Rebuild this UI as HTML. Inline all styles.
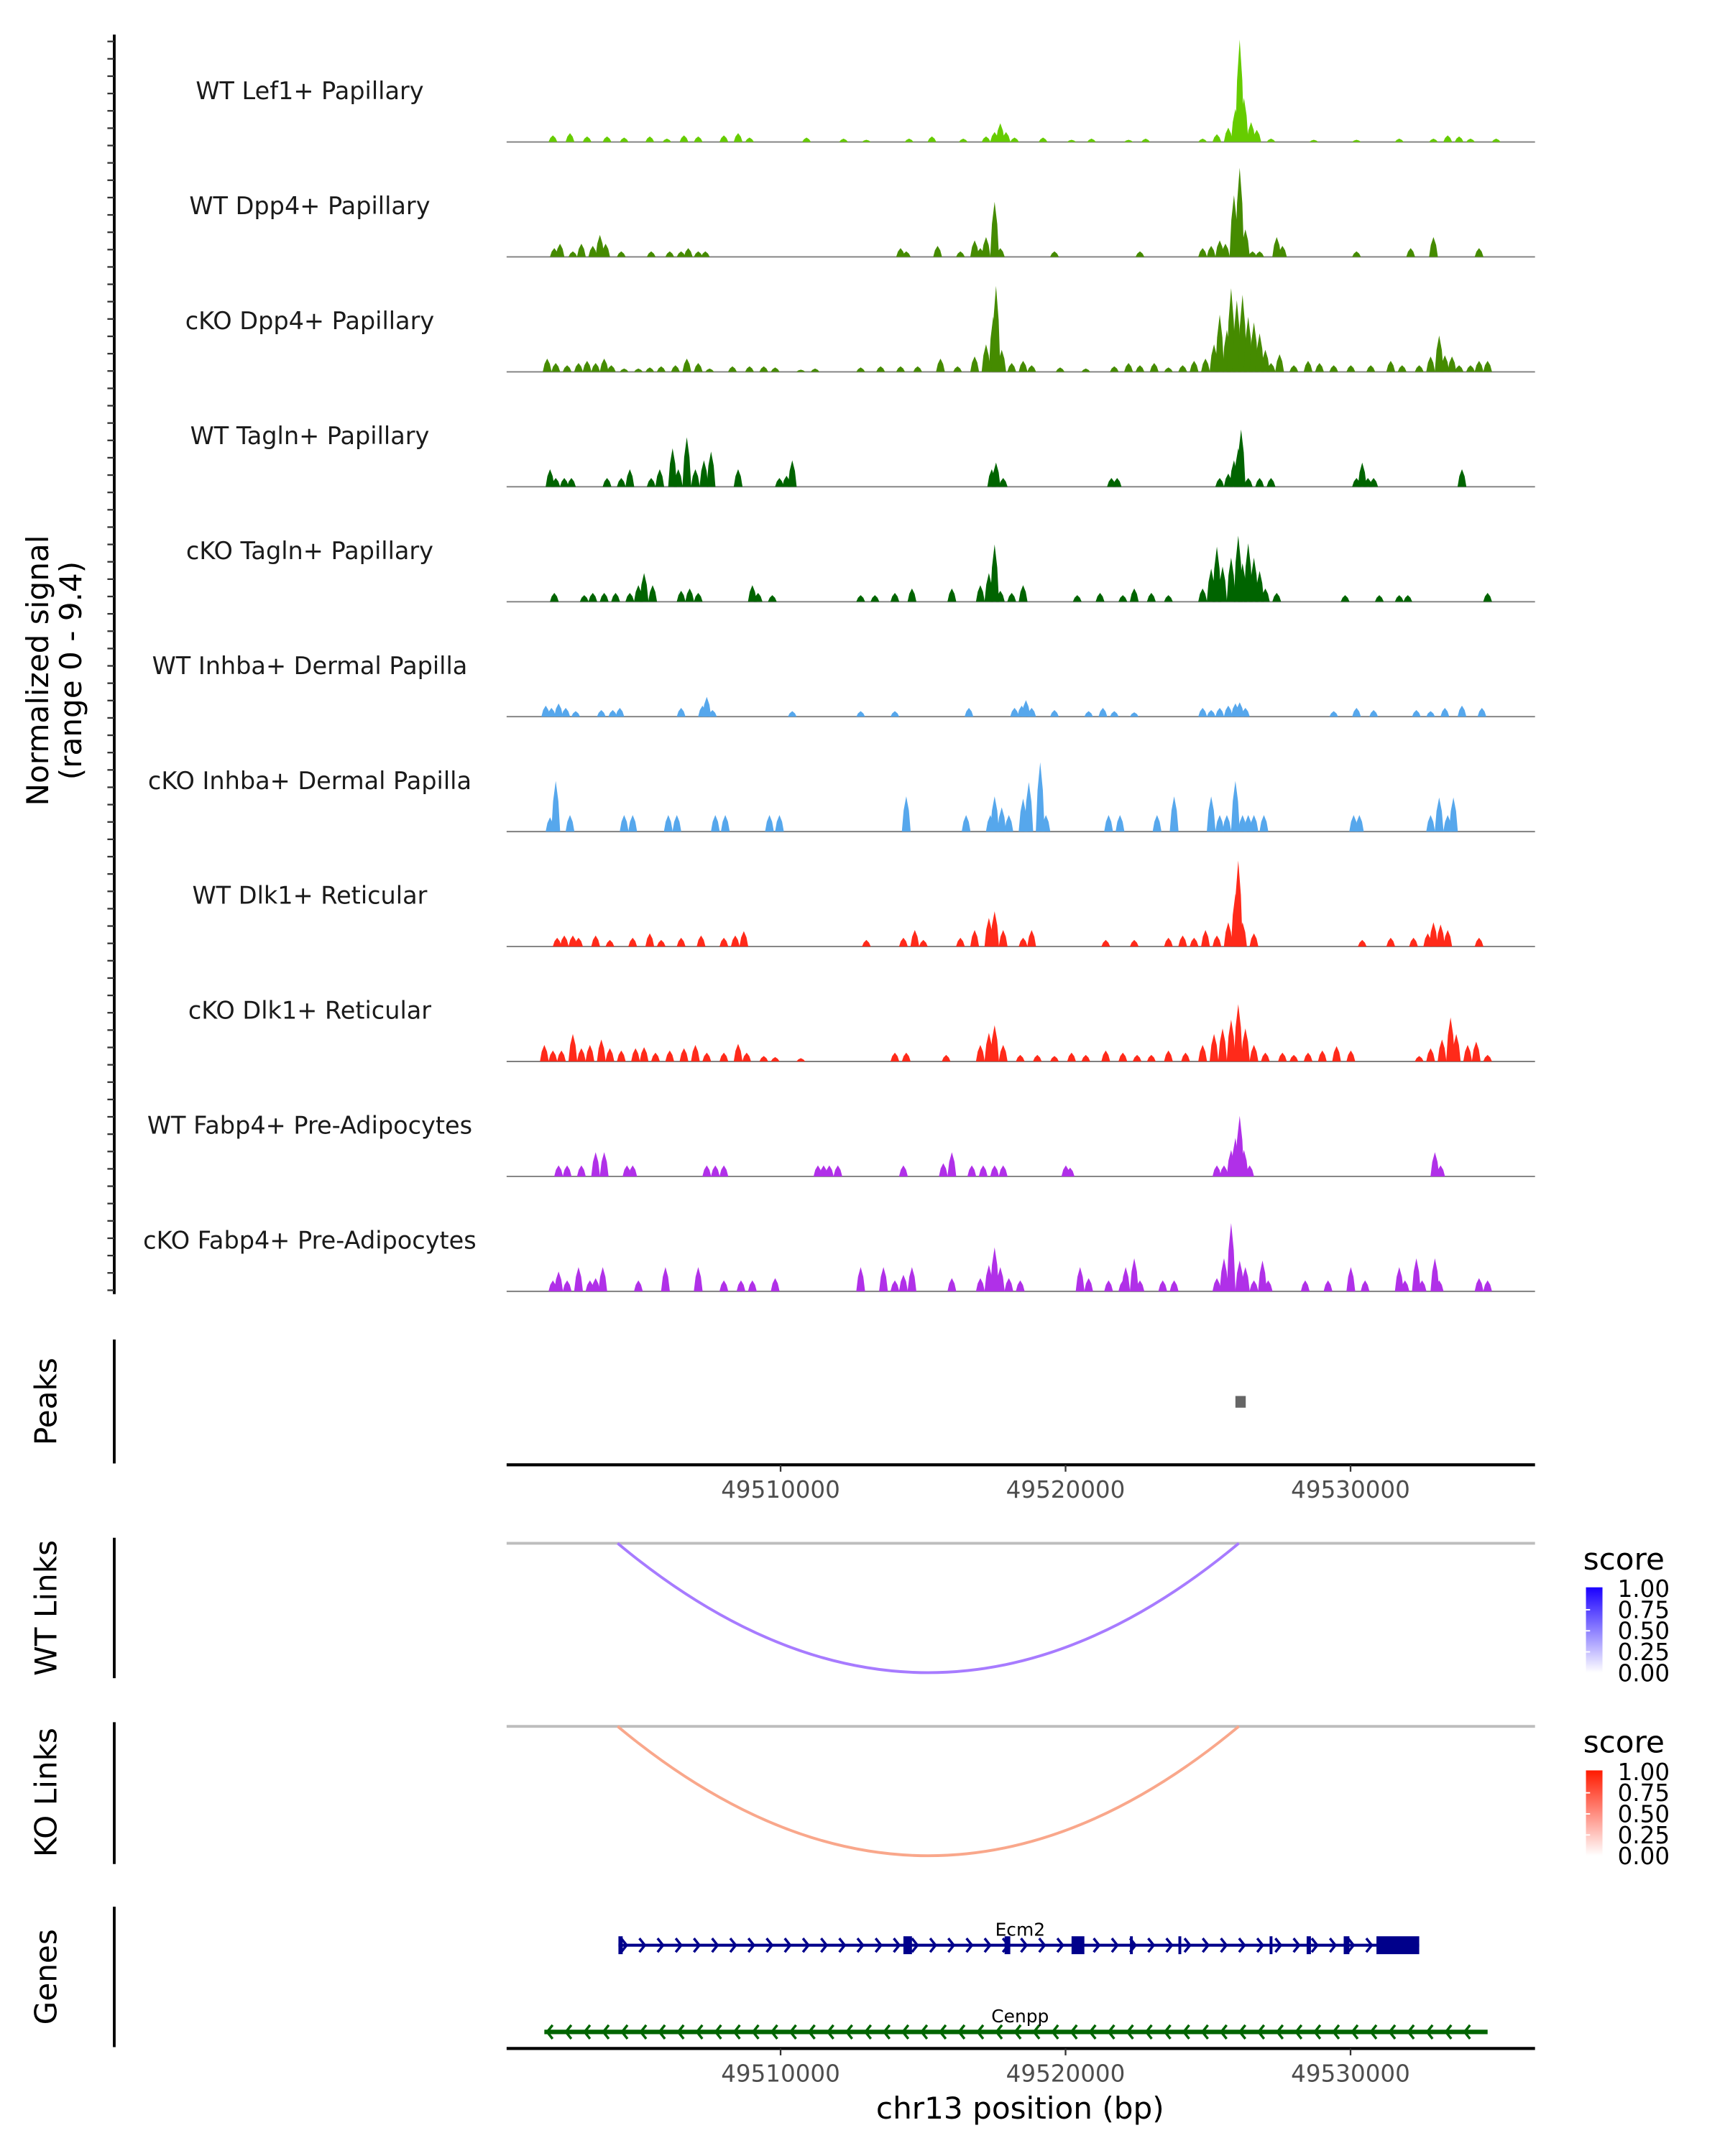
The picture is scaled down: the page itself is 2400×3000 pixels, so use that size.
<!DOCTYPE html>
<html><head><meta charset="utf-8">
<style>
html,body{margin:0;padding:0;background:#fff;}
svg{display:block;font-family:"DejaVu Sans","Liberation Sans",sans-serif;}
</style></head>
<body>
<svg id="chart" xmlns="http://www.w3.org/2000/svg" width="2400" height="3000" viewBox="0 0 1253 1566">
<defs>
<linearGradient id="gBlue" x1="0" y1="1" x2="0" y2="0"><stop offset="0" stop-color="#ffffff"/><stop offset="1" stop-color="#1a00ff"/></linearGradient>
<linearGradient id="gRed" x1="0" y1="1" x2="0" y2="0"><stop offset="0" stop-color="#ffffff"/><stop offset="1" stop-color="#ff1a00"/></linearGradient>
</defs>
<g id="tracks"></g>
<g id="static"></g>
</svg>
<script>
// ---- data ----
const regionStartBp = 49500210;
const axisTicks = [49510000, 49520000, 49530000];
const trackNames = ["WT Lef1+ Papillary","WT Dpp4+ Papillary","cKO Dpp4+ Papillary","WT Tagln+ Papillary","cKO Tagln+ Papillary","WT Inhba+ Dermal Papilla","cKO Inhba+ Dermal Papilla","WT Dlk1+ Reticular","cKO Dlk1+ Reticular","WT Fabp4+ Pre-Adipocytes","cKO Fabp4+ Pre-Adipocytes"];
const trackColors = ["#66cc00","#458b00","#458b00","#006400","#006400","#56a7ec","#56a7ec","#ff2a1a","#ff2a1a","#b030e8","#b030e8"];
// peaks: [kb offset from region start, normalized signal]
const t1 = [[1.8,.6],[2.4,.8],[3,.5],[3.7,.5],[4.3,.4],[5.2,.5],[5.8,.3],[6.4,.6],[6.9,.5],[7.8,.6],[8.3,.8],[8.7,.4],[10.7,.4],[12,.3],[12.8,.2],[14.3,.3],[15.1,.5],[16.2,.3],[17,.5],[17.3,.9],[17.5,1.7],[17.7,.9],[18,.4],[19,.4],[20,.2],[20.7,.3],[22,.2],[22.6,.3],[24.6,.3],[25.1,.7],[25.5,1.3],[25.75,3],[25.9,9.3],[26.05,4],[26.3,1.8],[26.5,1.1],[27,.3],[28.5,.2],[30,.2],[31.5,.3],[32.7,.3],[33.2,.6],[33.6,.5],[34,.3],[34.9,.3]];
const t2 = [[1.85,.8],[2.05,1.2],[2.5,.5],[2.8,1.2],[3.2,1],[3.45,2],[3.65,1.2],[4.2,.5],[5.25,.5],[5.9,.5],[6.3,.5],[6.55,.8],[6.9,.5],[7.15,.5],[14,.8],[14.2,.5],[15.3,1],[16.1,.5],[16.6,1.5],[16.8,.8],[17.0,1.8],[17.3,5],[17.5,.8],[19.4,.5],[22.4,.5],[24.6,.8],[24.9,1],[25.2,1.5],[25.4,1.2],[25.7,5.6],[25.9,8.1],[26.1,2.5],[26.35,.5],[26.6,.5],[27.2,1.8],[27.4,1],[30,.5],[31.9,.8],[32.7,1.8],[34.3,.8]];
const t3 = [[1.6,1.2],[1.9,.8],[2.3,.6],[2.7,.8],[3.0,1],[3.3,.8],[3.6,1.2],[3.85,.6],[4.3,.3],[4.8,.3],[5.2,.4],[5.6,.5],[6.1,.6],[6.5,1.2],[6.9,.8],[7.3,.3],[8.1,.5],[8.7,.5],[9.2,.5],[9.6,.4],[10.5,.2],[11,.3],[12.6,.4],[13.3,.5],[14,.5],[14.6,.5],[15.4,1.2],[16.0,.5],[16.6,1.4],[17.0,2.5],[17.25,5],[17.35,7.8],[17.55,2],[17.9,.8],[18.3,1],[18.6,.6],[19.6,.4],[20.5,.3],[21.5,.5],[22.0,.8],[22.4,.6],[22.9,.8],[23.4,.4],[23.9,.6],[24.3,1],[24.7,1.2],[25.0,2.5],[25.2,5.2],[25.45,3.8],[25.6,7.6],[25.8,6.5],[26.0,7],[26.2,5],[26.4,4.5],[26.6,3.5],[26.8,2],[27.0,.8],[27.3,1.6],[27.8,.6],[28.3,1],[28.7,.8],[29.2,.6],[29.8,.6],[30.5,.6],[31.2,1],[31.6,.6],[32.2,.6],[32.6,1.4],[32.9,3.3],[33.1,1.5],[33.35,1.4],[33.6,.6],[34.0,.6],[34.3,1],[34.6,1]];
const t4 = [[1.7,1.6],[1.9,.8],[2.2,.8],[2.45,.8],[3.7,.8],[4.2,.8],[4.5,1.6],[5.25,.8],[5.55,1.6],[6.0,3.5],[6.2,1.6],[6.5,4.5],[6.8,1.6],[7.1,2.4],[7.35,3.2],[8.3,1.6],[9.75,.8],[10.0,1],[10.2,2.4],[17.2,1.6],[17.35,2.2],[17.6,.8],[21.4,.8],[21.6,.8],[25.2,.8],[25.5,1.2],[25.7,2.4],[25.85,3.5],[25.95,5.2],[26.2,.8],[26.6,.8],[27.0,.8],[30.0,.8],[30.2,2.2],[30.4,.8],[30.6,.8],[33.7,1.6]];
const t5 = [[1.85,.8],[2.9,.6],[3.2,.8],[3.6,.8],[4.0,.8],[4.5,.8],[4.8,1.5],[5.0,2.6],[5.3,1.5],[6.3,1],[6.6,1.2],[6.9,.8],[8.8,1.5],[9.0,.8],[9.5,.6],[12.6,.6],[13.1,.6],[13.8,.8],[14.4,1.2],[15.8,1.2],[16.8,1.5],[17.1,2.6],[17.3,5.2],[17.5,1],[17.9,.8],[18.3,1.5],[20.2,.6],[21.0,.8],[21.8,.6],[22.2,1.2],[22.8,.8],[23.4,.6],[24.6,1.2],[24.9,3],[25.1,5],[25.3,3.2],[25.6,4],[25.85,6],[26.0,3.5],[26.2,5.3],[26.4,4],[26.6,2.8],[26.8,1.2],[27.2,.8],[29.6,.6],[30.8,.6],[31.5,.6],[31.8,.6],[34.6,.8]];
const t6 = [[1.55,1],[1.75,.8],[2.0,1.2],[2.25,.8],[2.6,.5],[3.5,.6],[3.9,.6],[4.15,.8],[6.3,.8],[7.05,1],[7.2,1.8],[7.4,.6],[10.2,.5],[12.6,.5],[13.8,.5],[16.4,.8],[18.0,.8],[18.25,1],[18.4,1.5],[18.6,.8],[19.4,.6],[20.6,.5],[21.1,.8],[21.5,.5],[22.2,.4],[24.6,.8],[24.9,.6],[25.2,.8],[25.5,1],[25.75,1.2],[25.9,1.3],[26.1,.8],[29.2,.5],[30.0,.8],[30.6,.6],[32.1,.6],[32.6,.5],[33.1,.8],[33.7,1],[34.4,.8]];
const t7 = [[1.7,1.3],[1.9,4.6],[2.4,1.5],[4.3,1.5],[4.6,1.5],[5.85,1.5],[6.15,1.5],[7.5,1.5],[7.85,1.5],[9.4,1.5],[9.75,1.5],[14.2,3.2],[16.3,1.5],[17.15,1.5],[17.3,3.2],[17.55,2.2],[17.8,1.5],[18.3,3],[18.5,4.5],[18.9,6.3],[19.1,1.5],[21.3,1.5],[21.7,1.5],[23.0,1.5],[23.6,3.2],[24.9,3.2],[25.2,1.5],[25.45,1.5],[25.75,4.6],[26.0,1.5],[26.2,1.5],[26.4,1.5],[26.75,1.5],[29.9,1.5],[30.1,1.5],[32.6,1.5],[32.9,3.1],[33.2,1.5],[33.4,3.1]];
const t8 = [[1.95,.8],[2.2,1],[2.5,1],[2.7,.8],[3.3,1],[3.8,.6],[4.6,.8],[5.2,1.2],[5.6,.6],[6.3,.8],[7.0,1],[7.8,.8],[8.2,1],[8.5,1.4],[12.8,.6],[14.1,.8],[14.5,1.5],[14.8,.6],[16.1,.8],[16.6,1.5],[17.1,2.6],[17.3,3.2],[17.6,1.5],[18.3,.8],[18.6,1.5],[21.2,.6],[22.2,.6],[23.4,.8],[23.9,1],[24.3,.8],[24.7,1.5],[25.1,1],[25.5,2.2],[25.75,4.8],[25.85,7.8],[26.0,2.2],[26.4,1.2],[30.2,.6],[31.2,.8],[32.0,.8],[32.5,1.2],[32.7,2.2],[32.95,2],[33.2,1.5],[34.3,.8]];
const t9 = [[1.5,1.5],[1.8,1],[2.1,1],[2.5,2.5],[2.8,1.2],[3.1,1.5],[3.5,2],[3.8,1.2],[4.2,1],[4.7,1.2],[5.0,1.3],[5.4,.8],[5.9,1],[6.4,1.2],[6.8,1.5],[7.2,.8],[7.8,.8],[8.3,1.6],[8.6,.8],[9.2,.5],[9.6,.4],[10.5,.3],[13.8,.8],[14.2,.8],[15.6,.6],[16.8,1.5],[17.1,2.6],[17.3,3.3],[17.6,1.5],[18.2,.6],[18.8,.6],[19.4,.5],[20.0,.8],[20.5,.6],[21.2,1],[21.8,.8],[22.3,.6],[22.8,.6],[23.4,1],[24.0,.8],[24.6,1.5],[25.0,2.5],[25.3,3],[25.6,3.8],[25.85,5.2],[26.1,3],[26.4,1.5],[26.8,.8],[27.4,.8],[27.8,.6],[28.3,.8],[28.8,1],[29.3,1.4],[29.8,1],[32.2,.5],[32.6,1.2],[33.0,2],[33.3,4],[33.5,2.5],[33.9,1.5],[34.2,1.8],[34.6,.6]];
const t10 = [[2.0,1],[2.3,1],[2.8,1],[3.3,2.2],[3.6,2.2],[4.4,1],[4.6,1],[7.2,1],[7.5,1],[7.8,1],[11.1,1],[11.3,1],[11.5,1],[11.8,1],[14.1,1],[15.5,1.2],[15.8,2.2],[16.5,1],[16.9,1],[17.3,1],[17.6,1],[19.8,1],[19.95,.8],[25.1,1],[25.35,1],[25.6,2.4],[25.75,3.5],[25.9,5.5],[26.05,2.4],[26.25,1],[32.75,2.2],[32.95,1]];
const t11 = [[1.8,1],[2.0,1.8],[2.3,1],[2.7,2.2],[3.1,1],[3.3,1.2],[3.55,2.2],[4.8,1],[5.75,2.2],[6.9,2.2],[7.8,1],[8.4,1],[8.8,1],[9.6,1.2],[12.6,2.2],[13.4,2.2],[13.8,1],[14.1,1.5],[14.4,2.2],[15.8,1.2],[16.8,1.2],[17.1,2.4],[17.3,4],[17.5,2.2],[17.8,1.2],[18.2,1],[20.3,2.2],[20.6,1.2],[21.3,1],[21.8,1],[21.9,2.2],[22.2,3],[22.4,1],[23.2,1],[23.6,1],[25.1,1.2],[25.35,3],[25.6,6.2],[25.9,2.8],[26.1,2.2],[26.4,1],[26.7,2.8],[26.9,1],[28.2,1],[29.0,1],[29.8,2.2],[30.3,1],[31.5,2.2],[31.7,1],[32.1,3],[32.3,1],[32.75,3],[32.9,1],[34.3,1.2],[34.6,1]];
const trackData = [t1,t2,t3,t4,t5,t6,t7,t8,t9,t10,t11];
const peakRegions = [[25.75,26.1]];
const linkStart = 4.07, linkEnd = 25.87;
const ecm2Span = [4.1, 32.2];
const ecm2Exons = [[4.1,4.25],[14.1,14.4],[17.65,17.85],[20.0,20.45],[22.05,22.15],[23.75,23.85],[26.95,27.05],[28.25,28.4],[29.55,29.75],[30.7,32.2]];
const cenppSpan = [1.5, 34.6];
const legendLabels = ["1.00","0.75","0.50","0.25","0.00"];

// ---- scales ----
const X0 = 368, X1 = 1115;
const PX_PER_KB = 20.7, TICK_REF_BP = 49510000, TICK_REF_X = 567;
function xbp(bp){ return TICK_REF_X + (bp - TICK_REF_BP) / 1000 * PX_PER_KB; }
function xs(kb){ return xbp(regionStartBp + kb * 1000); }
const PXU = 8; // px per signal unit
function ys(base, v){ return base - v * PXU; }

const NS = "http://www.w3.org/2000/svg";
const svg = document.getElementById("chart");
function mk(tag, attrs, parent){ const e = document.createElementNS(NS, tag); for (const k in attrs) e.setAttribute(k, attrs[k]); (parent||svg).appendChild(e); return e; }

// ---- signal tracks ----
const tg = document.getElementById("tracks");
const base0 = 103, step = 83.5;
trackData.forEach((pk, i) => {
  const b = base0 + i * step;
  const g = mk("g", {}, tg);
  
  
  const lab = mk("text", {x: 225, y: b - 31, "text-anchor": "middle", "font-size": 17.5, fill: "#1a1a1a"}, g);
  lab.textContent = trackNames[i];
  
  
  const bl = mk("line", {x1: X0, x2: X1, y1: b, y2: b, stroke: "#7f7f7f", "stroke-width": 1}, g);
  
  
  pk.forEach(p => {
    const cx = xs(p[0]), w = 3.2, top = ys(b, p[1]);
    const sh = mk("path", {d: `M${cx-w},${b} L${cx-w*0.6},${ys(b,p[1]*0.6)} L${cx},${top} L${cx+w*0.6},${ys(b,p[1]*0.6)} L${cx+w},${b} Z`, fill: trackColors[i]}, g);
    
    
  });
});

const st = document.getElementById("static");
// left signal axis
const la = mk("line", {x1: 83, x2: 83, y1: 25, y2: 940, stroke: "#000", "stroke-width": 2}, st);


for (let k = 0; k < 73; k++) {
  const y = 30 + k * 12.6;
  if (y > 940) break;
  const t = mk("line", {x1: 78, x2: 83, y1: y, y2: y, stroke: "#333", "stroke-width": 1.2}, st);
  
  
}
const yt = mk("text", {transform: "translate(41,487) rotate(-90)", "text-anchor": "middle", "font-size": 22, fill: "#000"}, st);


const ts1 = mk("tspan", {x: 0, dy: -6}, yt); ts1.textContent = "Normalized signal";
const ts2 = mk("tspan", {x: 0, dy: 24}, yt); ts2.textContent = "(range 0 - 9.4)";

function sideLabel(txt, y, y1, y2, name){
  const l = mk("line", {x1: 83, x2: 83, y1: y1, y2: y2, stroke: "#000", "stroke-width": 2}, st);
  
  
  const t = mk("text", {transform: `translate(41,${y}) rotate(-90)`, "text-anchor": "middle", "font-size": 22, fill: "#000"}, st);
  t.textContent = txt;
  
  
}
sideLabel("Peaks", 1018, 973, 1063, "peaks");
sideLabel("WT Links", 1168, 1117, 1219, "wt-links");
sideLabel("KO Links", 1302, 1251, 1354, "ko-links");
sideLabel("Genes", 1436, 1385, 1487, "genes");

// peaks
peakRegions.forEach(p => {
  const r = mk("rect", {x: xs(p[0]), y: 1014, width: Math.max(7.5, xs(p[1]) - xs(p[0])), height: 8.5, fill: "#666"}, st);
  
  
});

function xAxis(y, name){
  const a = mk("line", {x1: X0, x2: X1, y1: y, y2: y, stroke: "#000", "stroke-width": 2.2}, st);
  
  
  axisTicks.forEach(v => {
    const x = xbp(v);
    const t = mk("line", {x1: x, x2: x, y1: y, y2: y + 5, stroke: "#333", "stroke-width": 1.2}, st);
    
    
    const tl = mk("text", {x: x, y: y + 24, "text-anchor": "middle", "font-size": 17, fill: "#4d4d4d"}, st);
    tl.textContent = v;
    
    
  });
}
xAxis(1064, "peaks-x-axis");
xAxis(1488, "genes-x-axis");
const xt = mk("text", {x: 741, y: 1539, "text-anchor": "middle", "font-size": 22, fill: "#000"}, st);
xt.textContent = "chr13 position (bp)";



// links
function link(base, color, grad, name){
  const bl = mk("line", {x1: X0, x2: X1, y1: base, y2: base, stroke: "#bdbdbd", "stroke-width": 2}, st);
  
  
  const a = xs(linkStart), b = xs(linkEnd), m = (a + b) / 2;
  const p = mk("path", {d: `M${a},${base} Q${m},${base + 188} ${b},${base}`, fill: "none", stroke: color, "stroke-width": 2}, st);
  
  
  const lt = mk("text", {x: 1150, y: base + 19, "font-size": 22, fill: "#000"}, st);
  lt.textContent = "score";
  
  
  const bar = mk("rect", {x: 1152, y: base + 32, width: 12, height: 62, fill: `url(#${grad})`}, st);
  
  
  legendLabels.forEach((s, k) => {
    const y = base + 33 + k * 15.3;
    const t = mk("text", {x: 1175, y: y + 6, "font-size": 17, fill: "#000"}, st);
    t.textContent = s;
    
    
    if (k > 0 && k < 4) mk("line", {x1: 1152, x2: 1155, y1: y, y2: y, stroke: "#fff"}, st);
  });
}
link(1121, "#a77bff", "gBlue", "wt-links");
link(1254, "#f9a78b", "gRed", "ko-links");

// genes
function gene(span, y, color, dir, label, exons, name){
  const g = mk("g", {}, st);
  
  
  const a = xs(span[0]), b = xs(span[1]);
  mk("line", {x1: a, x2: b, y1: y, y2: y, stroke: color, "stroke-width": dir > 0 ? 2.2 : 3.2}, g);
  for (let x = a + 4; x < b - 3; x += dir > 0 ? 13.2 : 13.6) {
    const d = dir > 0 ? `M${x-2},${y-5} L${x+2},${y} L${x-2},${y+5}` : `M${x+2},${y-5} L${x-2},${y} L${x+2},${y+5}`;
    mk("path", {d: d, fill: "none", stroke: color, "stroke-width": 1.8}, g);
  }
  (exons || []).forEach(e => {
    const r = mk("rect", {x: xs(e[0]), y: y - 6.5, width: Math.max(2, xs(e[1]) - xs(e[0])), height: 13, fill: color}, g);
    
    
  });
  const t = mk("text", {x: 741, y: y - 7, "text-anchor": "middle", "font-size": 13, fill: "#000"}, g);
  t.textContent = label;
  
  
}
gene(ecm2Span, 1413, "#00008b", 1, "Ecm2", ecm2Exons, "gene-ecm2");
gene(cenppSpan, 1476, "#006400", -1, "Cenpp", [], "gene-cenpp");
</script>
</body></html>
